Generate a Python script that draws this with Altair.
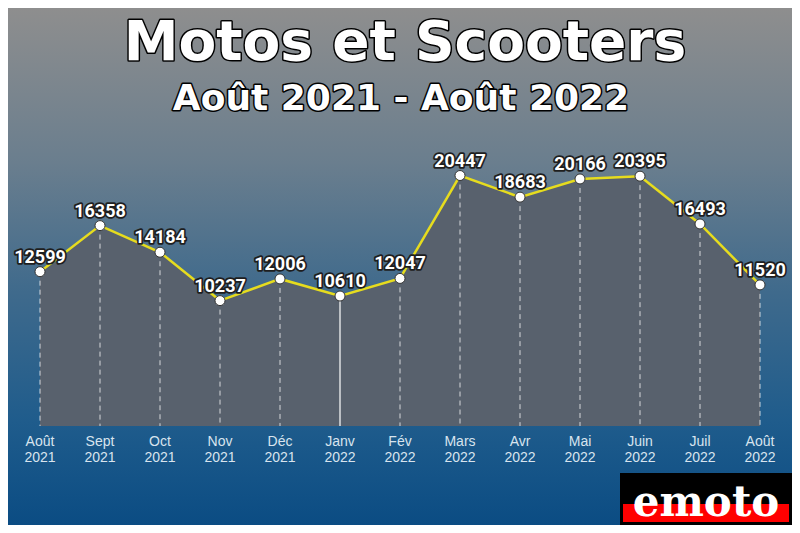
import altair as alt
import pandas as pd

months = ["Août", "Sept", "Oct", "Nov", "Déc", "Janv", "Fév", "Mars", "Avr", "Mai", "Juin", "Juil", "Août"]
years = ["2021", "2021", "2021", "2021", "2021", "2022", "2022", "2022", "2022", "2022", "2022", "2022", "2022"]
values = [12599, 16358, 14184, 10237, 12006, 10610, 12047, 20447, 18683, 20166, 20395, 16493, 11520]

df = pd.DataFrame({
    "idx": list(range(len(months))),
    "month": months,
    "year": years,
    "value": values,
    "label": [str(v) for v in values],
})

W, H = 720, 294
X = alt.X("idx:Q", scale=alt.Scale(domain=[0, 12]), axis=None)
Y = alt.Y("value:Q", scale=alt.Scale(domain=[0, 24000]), axis=None)

base = alt.Chart(df)
one = alt.Chart(alt.Data(values=[{"t": 1}]))

bg = one.mark_rect(
    color=alt.Gradient(
        gradient="linear",
        stops=[
            alt.GradientStop(color="#8e8e8e", offset=0),
            alt.GradientStop(color="#6a7e8e", offset=0.3),
            alt.GradientStop(color="#3f6a8c", offset=0.55),
            alt.GradientStop(color="#1f5c8c", offset=0.8),
            alt.GradientStop(color="#0b4c83", offset=1),
        ],
        x1=0, x2=0, y1=0, y2=1,
    )
).encode(x=alt.value(-32), x2=alt.value(752), y=alt.value(-124), y2=alt.value(393))

area = base.mark_area(color="#58616d", opacity=1).encode(x=X, y=Y)

rules_dashed = base.transform_filter(alt.datum.month != "Janv").mark_rule(
    color="white", strokeDash=[5, 4], strokeWidth=1, opacity=0.75
).encode(x=X, y=Y, y2=alt.datum(0))
rules_solid = base.transform_filter(alt.datum.month == "Janv").mark_rule(
    color="white", strokeWidth=1.2
).encode(x=X, y=Y, y2=alt.datum(0))

line = base.mark_line(color="#e6dc1e", strokeWidth=2.5).encode(x=X, y=Y)
points = base.mark_point(
    filled=True, fill="white", stroke="#333333", strokeWidth=1, size=100, opacity=1, shape="circle"
).encode(x=X, y=Y)

lab_kw = dict(font="Roboto", fontSize=18, fontWeight="bold", baseline="middle", align="center", dy=-14)
labels_stroke = base.mark_text(
    stroke="#1e1e1e", strokeWidth=3.5, strokeJoin="round", fill="#1e1e1e", **lab_kw
).encode(x=X, y=Y, text="label:N")
labels_fill = base.mark_text(fill="white", **lab_kw).encode(x=X, y=Y, text="label:N")

ax_kw = dict(font="Liberation Sans", fontSize=14, color="#d8e4ee", align="center", baseline="alphabetic")
xm = base.mark_text(**ax_kw).encode(x=X, y=alt.value(314), text="month:N")
xy = base.mark_text(**ax_kw).encode(x=X, y=alt.value(330), text="year:N")

title_data = alt.Chart(alt.Data(values=[{"t": "Motos et Scooters", "s": "Août 2021 - Août 2022"}]))
t_kw = dict(font="DejaVu Sans", fontWeight="bold", align="center", baseline="alphabetic")
title_s = title_data.mark_text(fontSize=55, stroke="black", strokeWidth=3, strokeJoin="round", fill="black", **t_kw).encode(
    x=alt.value(365), y=alt.value(-72), text="t:N")
title_f = title_data.mark_text(fontSize=55, fill="white", **t_kw).encode(
    x=alt.value(365), y=alt.value(-72), text="t:N")
sub_s = title_data.mark_text(fontSize=36, stroke="black", strokeWidth=3, strokeJoin="round", fill="black", **t_kw).encode(
    x=alt.value(361), y=alt.value(-22), text="s:N")
sub_f = title_data.mark_text(fontSize=36, fill="white", **t_kw).encode(
    x=alt.value(361), y=alt.value(-22), text="s:N")

logo_bg = one.mark_rect(color="black").encode(
    x=alt.value(580), x2=alt.value(752), y=alt.value(341), y2=alt.value(393))
logo_red = one.mark_rect(color="#ff0000").encode(
    x=alt.value(583), x2=alt.value(749), y=alt.value(372), y2=alt.value(390))
logo_txt = alt.Chart(alt.Data(values=[{"t": "emoto"}])).mark_text(
    font="DejaVu Serif", fontWeight="bold", fontSize=42, fill="white", align="center", baseline="alphabetic"
).encode(x=alt.value(666), y=alt.value(384), text="t:N")

chart = alt.layer(
    bg, area, rules_dashed, rules_solid, line, points,
    labels_stroke, labels_fill, xm, xy,
    title_s, title_f, sub_s, sub_f,
    logo_bg, logo_red, logo_txt,
).properties(
    width=W, height=H,
    padding={"left": 32, "top": 124, "right": 32, "bottom": 99},
    autosize=alt.AutoSizeParams(type="none"),
    background="#4e6f8a",
).configure_view(stroke=None)

chart.save("out.html", embed_options={"renderer": "svg", "actions": False})
